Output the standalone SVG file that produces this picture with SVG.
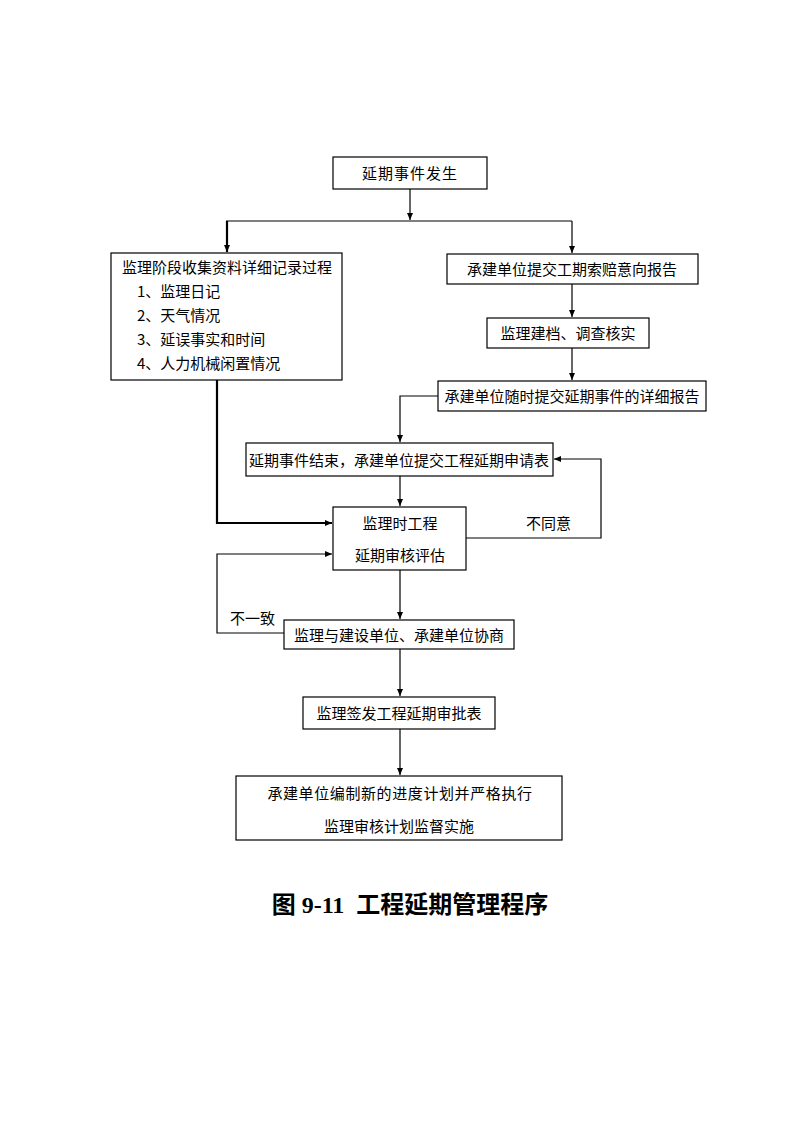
<svg xmlns="http://www.w3.org/2000/svg" width="794" height="1123" viewBox="0 0 794 1123">
<style>
.box{fill:#fff;stroke:#000;stroke-width:1.2}
.t{font-family:"Noto Sans CJK SC","Liberation Sans",sans-serif;font-size:15px;fill:#000}
.c{text-anchor:middle}
.ln{fill:none;stroke:#000;stroke-width:1.2}
.thick{fill:none;stroke:#000;stroke-width:2.2}
.cap{font-family:"Liberation Serif","Noto Sans CJK SC",serif;font-size:24px;font-weight:bold;fill:#000}
</style>
<defs>
<marker id="ah" markerWidth="8" markerHeight="8" refX="7" refY="4" orient="auto" markerUnits="userSpaceOnUse">
<path d="M0,1 L7,4 L0,7 Z" fill="#000"/>
</marker>
</defs>
<rect width="794" height="1123" fill="#fff"/>
<g id="connectors">
<line class="ln" x1="410" y1="189" x2="410" y2="220" marker-end="url(#ah)"/>
<line class="ln" x1="226" y1="221" x2="572" y2="221"/>
<line class="thick" x1="227" y1="221" x2="227" y2="252" marker-end="url(#ah)"/>
<line class="ln" x1="572" y1="221" x2="572" y2="253" marker-end="url(#ah)"/>
<line class="ln" x1="572" y1="284" x2="572" y2="317" marker-end="url(#ah)"/>
<line class="ln" x1="572" y1="348" x2="572" y2="380" marker-end="url(#ah)"/>
<polyline class="ln" points="438,396 400,396 400,442" marker-end="url(#ah)"/>
<line class="ln" x1="400" y1="476" x2="400" y2="506" marker-end="url(#ah)"/>
<polyline class="thick" points="217,380 217,523 332,523" marker-end="url(#ah)"/>
<polyline class="ln" points="466,538 601,538 601,459 554,459" marker-end="url(#ah)"/>
<line class="ln" x1="400" y1="570" x2="400" y2="619" marker-end="url(#ah)"/>
<polyline class="ln" points="284,633 217,633 217,554 332,554" marker-end="url(#ah)"/>
<line class="ln" x1="400" y1="649" x2="400" y2="696" marker-end="url(#ah)"/>
<line class="ln" x1="400" y1="729" x2="400" y2="775" marker-end="url(#ah)"/>
<text class="t" x="526" y="529">不同意</text>
<text class="t" x="230" y="624">不一致</text>
</g>
<g id="n1"><rect class="box" x="333" y="157" width="154" height="32"/><text class="t c" x="410" y="179" letter-spacing="1">延期事件发生</text></g>
<g id="n2"><rect class="box" x="111" y="253" width="231" height="127"/>
<text class="t" x="122" y="273">监理阶段收集资料详细记录过程</text>
<text class="t" x="137" y="297">1、监理日记</text>
<text class="t" x="137" y="321">2、天气情况</text>
<text class="t" x="137" y="345">3、延误事实和时间</text>
<text class="t" x="137" y="369">4、人力机械闲置情况</text>
</g>
<g id="n3"><rect class="box" x="447" y="254" width="251" height="30"/><text class="t c" x="572" y="275">承建单位提交工期索赔意向报告</text></g>
<g id="n4"><rect class="box" x="487" y="318" width="162" height="30"/><text class="t c" x="568" y="339">监理建档、调查核实</text></g>
<g id="n5"><rect class="box" x="438" y="381" width="268" height="30"/><text class="t c" x="572" y="402">承建单位随时提交延期事件的详细报告</text></g>
<g id="n6"><rect class="box" x="246" y="443" width="307" height="33"/><text class="t c" x="399" y="466">延期事件结束，承建单位提交工程延期申请表</text></g>
<g id="n7"><rect class="box" x="333" y="507" width="133" height="63"/>
<text class="t c" x="400" y="529">监理时工程</text>
<text class="t c" x="400" y="561">延期审核评估</text></g>
<g id="n8"><rect class="box" x="284" y="620" width="230" height="29"/><text class="t c" x="399" y="641">监理与建设单位、承建单位协商</text></g>
<g id="n9"><rect class="box" x="303" y="697" width="192" height="32"/><text class="t c" x="399" y="719">监理签发工程延期审批表</text></g>
<g id="n10"><rect class="box" x="236" y="776" width="326" height="64"/>
<text class="t c" x="400" y="799" font-size="16" letter-spacing="0.6">承建单位编制新的进度计划并严格执行</text>
<text class="t c" x="399" y="832" font-size="16">监理审核计划监督实施</text></g>
<text class="cap" x="410" y="913" text-anchor="middle" xml:space="preserve">图 9-11  工程延期管理程序</text>
</svg>
